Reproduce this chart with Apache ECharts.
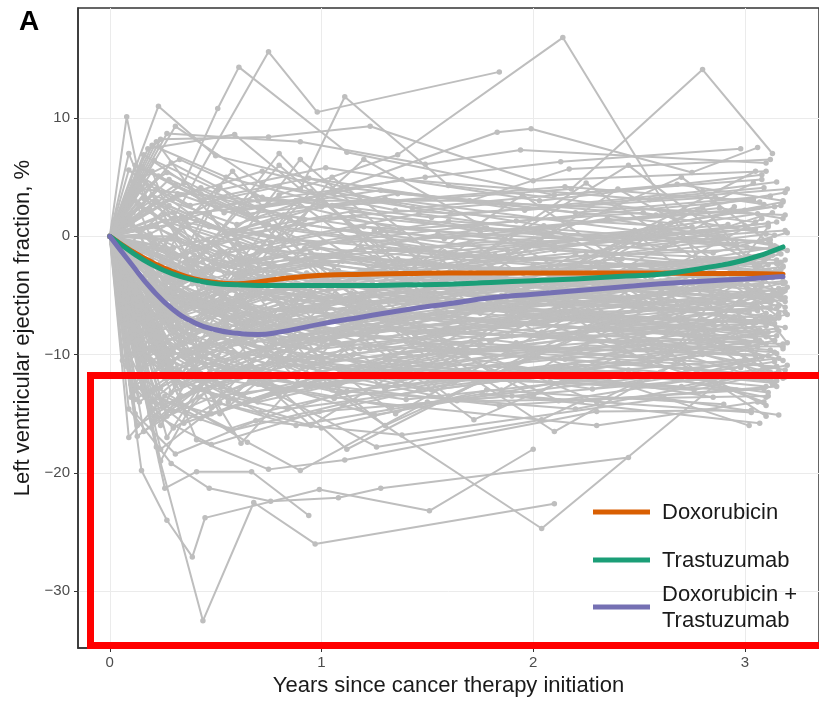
<!DOCTYPE html>
<html>
<head>
<meta charset="utf-8">
<script src="https://cdn.jsdelivr.net/npm/echarts@6/dist/echarts.min.js"></script>
<style>
  html, body { margin: 0; padding: 0; background: #fff; }
  #chart { width: 819px; height: 702px; }
</style>
</head>
<body>
<div id="chart"></div>
<script>
// Change in LVEF from baseline (percentage points) per patient.
// Each trajectory is a flat list of follow-up pairs: years, change.
// Every patient starts at baseline (0 years, 0 change).
const doxorubicinPatients = [
  [0.12,-4.2, 0.45,-6.1, 1.02,-3.5, 2.05,-2.8, 3.10,-1.9],
  [0.18,2.1, 0.52,-1.5, 1.20,0.8, 2.40,-0.5, 3.15,1.2],
  [0.08,10.1, 0.16,3.2, 0.62,-2.4, 1.40,-1.1, 3.05,0.6],
  [0.23,11.0, 0.50,6.8, 1.12,4.1, 2.20,2.0, 3.12,3.4],
  [0.31,9.3, 0.72,4.4, 1.35,2.2, 2.60,0.9],
  [0.15,-19.8, 0.27,-24.0, 0.39,-27.1, 0.45,-23.8, 0.99,-21.4, 1.51,-23.2, 2.00,-18.0],
  [0.10,-7.5, 0.35,-9.8, 0.80,-6.2, 1.65,-4.0, 3.08,-5.1],
  [0.25,-1.2, 0.60,-3.3, 1.10,-2.1, 2.15,-4.5, 3.18,-2.6],
  [0.14,-11.2, 0.42,-8.0, 0.95,-9.6, 2.30,-6.8, 3.05,-7.3],
  [0.20,-3.1, 0.55,-5.8, 1.30,-7.0, 2.50,-5.2, 3.12,-6.1],
  [0.09,5.6, 0.38,1.9, 0.88,3.0, 1.75,0.4, 3.00,2.2],
  [0.28,-6.4, 0.70,-2.9, 1.45,-4.6, 2.70,-3.0],
  [0.17,-13.5, 0.48,-15.0, 1.05,-11.9, 2.00,-9.7, 3.15,-11.0],
  [0.33,-0.4, 0.77,-2.6, 1.55,0.2, 2.85,-1.4, 3.20,0.3],
  [0.13,-8.8, 0.40,-5.2, 0.90,-7.7, 1.90,-8.4, 3.10,-7.3],
  [0.22,4.0, 0.58,0.5, 1.25,-1.8, 2.35,1.5, 3.14,-0.8],
  [0.35,4.5, 0.51,10.8, 0.61,14.3, 1.12,7.1, 2.10,3.5, 3.08,4.8],
  [0.40,-2.0, 0.80,3.5, 1.36,6.9, 2.14,16.8, 2.78,-1.9],
  [0.11,-2.7, 0.30,-5.5, 0.66,-8.1, 1.50,-5.9, 2.45,-7.2, 3.16,-4.4],
  [0.19,-9.4, 0.46,-12.2, 0.85,-10.1, 1.80,-11.5, 3.02,-9.0],
  [0.26,1.3, 0.64,-0.9, 1.15,-3.4, 2.25,-1.6, 3.11,-2.9],
  [0.07,-5.0, 0.24,-2.2, 0.56,-4.0, 1.00,-6.3, 2.10,-3.7, 3.13,-4.9],
  [0.16,6.9, 0.43,3.6, 0.92,1.4, 1.85,2.8, 3.19,1.8],
  [0.29,-10.6, 0.68,-7.4, 1.40,-8.9, 2.55,-10.2, 3.06,-8.1],
  [0.12,-1.8, 0.37,0.9, 0.74,-1.2, 1.60,-2.5, 2.90,-0.1],
  [0.21,-15.6, 0.53,-11.0, 1.08,-13.2, 2.20,-10.8, 3.14,-12.4],
  [0.34,-4.9, 0.81,-6.8, 1.70,-3.2, 3.04,-5.7],
  [0.09,3.1, 0.27,5.4, 0.63,2.2, 1.28,3.9, 2.65,1.1, 3.17,2.6],
  [0.18,-7.0, 0.50,-3.9, 0.97,-5.1, 2.05,-6.6, 3.09,-3.3],
  [0.24,-12.8, 0.57,-9.3, 1.18,-7.5, 2.40,-9.0, 3.15,-8.4],
  [0.14,0.6, 0.44,-2.8, 0.89,-0.3, 1.95,-1.9, 3.12,-1.0],
  [0.30,-8.2, 0.75,-10.8, 1.50,-9.2, 2.80,-7.0],
  [0.10,-3.6, 0.32,-7.3, 0.69,-5.0, 1.35,-3.0, 2.60,-4.8, 3.18,-3.8],
  [0.20,7.7, 0.55,5.0, 1.05,2.6, 2.15,4.2, 3.07,2.9],
  [0.36,-2.3, 0.86,-4.4, 1.62,-1.6, 2.95,-2.8],
  [0.13,-16.9, 0.41,-13.0, 0.84,-14.6, 1.90,-12.1, 3.00,-10.4],
  [0.23,-5.6, 0.61,-8.7, 1.20,-6.1, 2.35,-7.9, 3.16,-6.9],
  [0.08,-0.9, 0.28,2.6, 0.59,0.1, 1.15,1.7, 2.50,-0.7, 3.11,0.9],
  [0.27,-11.4, 0.66,-13.8, 1.32,-10.5, 2.70,-12.0, 3.15,-9.9],
  [0.15,-6.1, 0.47,-4.3, 1.00,-2.4, 2.00,-4.1, 3.13,-3.5],
  [0.32,3.6, 0.73,1.0, 1.48,-0.9, 2.75,0.8],
  [0.11,-9.9, 0.34,-6.7, 0.78,-9.0, 1.70,-7.1, 3.05,-8.6],
  [0.19,-4.7, 0.52,-1.3, 1.10,-4.0, 2.30,-2.2, 3.19,-4.6],
  [0.25,-14.3, 0.62,-11.7, 1.25,-15.1, 2.45,-11.3, 3.10,-13.6],
  [0.06,1.8, 0.22,-1.0, 0.48,-3.6, 0.95,-1.4, 1.95,-2.9, 3.02,-1.7],
  [0.29,6.2, 0.70,2.4, 1.38,4.8, 2.55,3.1, 3.20,4.0],
  [0.10,-12.5, 0.30,-16.2, 0.70,-12.0, 1.40,-13.8, 2.60,-11.5, 3.12,-12.2],
  [0.16,-1.0, 0.40,-3.0, 0.83,-1.7, 1.52,-3.8, 2.78,-2.0, 3.16,-3.3],
  [0.21,2.9, 0.47,0.8, 0.99,-0.6, 2.02,0.3, 3.08,-0.4],
  [0.07,-9.2, 0.20,-13.9, 0.45,-10.2, 0.93,-12.7, 1.88,-10.0, 3.03,-11.7],
  [0.26,-3.7, 0.58,-6.9, 1.14,-4.8, 2.28,-5.9, 3.17,-5.0],
  [0.13,3.8, 0.36,1.2, 0.76,-0.5, 1.46,1.9, 2.62,-0.9, 3.13,2.0],
  [0.31,-7.8, 0.73,-5.3, 1.44,-8.3, 2.66,-6.1, 3.19,-7.7],
  [0.09,-4.5, 0.27,-8.9, 0.60,-6.7, 1.18,-9.5, 2.32,-6.4, 3.10,-9.1],
  [0.19,0.1, 0.49,-2.3, 1.03,-4.6, 2.08,-2.5, 3.15,-2.3],
  [0.24,-18.0, 0.52,-14.1, 1.00,-16.2, 1.78,-13.0, 2.90,-14.2],
  [0.12,-6.8, 0.39,-4.0, 0.82,-7.1, 1.66,-5.6, 3.06,-6.3],
  [0.34,1.7, 0.79,-1.0, 1.60,1.3, 2.96,-0.6],
  [0.17,-10.1, 0.43,-7.1, 0.91,-11.0, 1.96,-8.3, 3.14,-9.8],
  [0.06,-2.0, 0.18,-5.9, 0.41,-3.3, 0.86,-5.5, 1.74,-3.4, 3.01,-4.1],
  [0.28,4.8, 0.65,1.9, 1.30,3.2, 2.48,0.5, 3.18,2.9],
  [0.14,-14.0, 0.33,-11.4, 0.71,-14.9, 1.48,-11.8, 2.76,-13.0, 3.16,-11.4],
  [0.22,-5.0, 0.54,-2.5, 1.09,-5.3, 2.18,-3.0, 3.11,-5.4],
  [0.10,1.0, 0.29,-1.9, 0.64,0.6, 1.26,-2.3, 2.42,0.2, 3.20,-1.2],
  [0.20,5.5, 0.45,-6.0, 0.95,3.8, 1.60,-5.5, 2.40,4.0, 3.12,-3.0],
  [0.11,-13.0, 0.38,-2.0, 0.90,-12.5, 1.70,-1.5, 2.55,-10.8, 3.17,-4.6],
  [0.30,2.0, 0.68,-9.0, 1.25,0.5, 2.05,-8.5, 3.08,1.5],
  [0.15,-8.0, 0.52,4.2, 1.15,-6.0, 1.95,3.5, 2.85,-7.5, 3.19,-2.0],
  [0.24,-16.0, 0.60,-5.0, 1.35,-15.0, 2.20,-6.5, 3.10,-14.3],
  [0.09,7.0, 0.33,-3.5, 0.80,6.0, 1.50,-4.5, 2.70,5.0, 3.15,-1.0],
  [0.18,-3.0, 0.56,-14.0, 1.10,-4.0, 2.00,-13.5, 3.02,-3.5],
  [0.28,-10.0, 0.75,1.0, 1.55,-11.0, 2.50,0.0, 3.18,-9.5],
  [0.13,0.5, 0.42,-10.0, 0.85,1.5, 1.80,-9.0, 2.95,2.5],
  [0.36,-6.0, 0.90,6.5, 1.75,-6.5, 3.05,5.5]
];

const trastuzumabPatients = [
  [0.18,7.4, 0.59,8.6, 0.90,4.0, 1.11,11.8, 1.60,4.3, 3.05,1.2],
  [0.24,8.2, 0.75,8.4, 1.23,9.3, 2.00,4.7, 3.10,5.5],
  [0.27,8.7, 0.90,8.0, 1.49,6.1, 1.94,7.3, 3.10,6.2],
  [0.12,6.0, 0.50,2.5, 1.49,5.0, 2.13,6.3, 2.98,7.4],
  [0.20,3.5, 0.60,1.0, 1.83,8.8, 1.99,9.1, 2.75,5.4, 3.06,7.5],
  [0.30,-1.0, 1.00,2.5, 2.18,4.0, 2.80,14.1, 3.13,7.0],
  [0.30,1.5, 0.75,15.6, 0.98,10.5, 1.84,13.9],
  [0.15,4.0, 0.70,3.0, 1.70,3.0, 2.17,5.7, 3.12,6.5],
  [0.10,-2.5, 0.25,-4.8, 0.50,-2.0, 1.05,-3.9, 2.10,-1.2, 3.15,-2.0],
  [0.22,-6.9, 0.58,-4.4, 1.22,-5.8, 2.40,-3.6, 3.08,-4.2],
  [0.14,2.7, 0.39,-0.6, 0.82,1.8, 1.58,-0.2, 2.88,2.4, 3.18,1.5],
  [0.33,-3.8, 0.76,-1.1, 1.44,-2.7, 2.62,0.4, 3.12,-0.6],
  [0.08,-8.3, 0.26,-11.8, 0.57,-8.9, 1.12,-6.5, 2.25,-7.7, 3.16,-5.8],
  [0.19,0.2, 0.49,2.9, 0.96,-0.7, 1.92,1.3, 3.04,3.1],
  [0.28,-5.2, 0.65,-7.6, 1.30,-4.4, 2.50,-6.0, 3.11,-2.4],
  [0.12,-12.6, 0.36,-9.7, 0.80,-12.9, 1.75,-9.1, 3.05,-10.1],
  [0.23,5.1, 0.54,2.0, 1.06,3.7, 2.05,0.9, 3.14,2.5],
  [0.17,-3.3, 0.45,-5.9, 0.93,-3.1, 1.85,-5.0, 3.09,-2.1],
  [0.35,-9.1, 0.82,-6.0, 1.60,-7.9, 2.90,-5.5],
  [0.09,-6.2, 0.31,-3.0, 0.68,-6.6, 1.42,-4.7, 2.70,-5.9, 3.19,-3.9],
  [0.26,1.9, 0.63,-2.2, 1.28,0.4, 2.45,-1.5, 3.12,-0.3],
  [0.15,-10.4, 0.47,-7.8, 1.02,-9.3, 2.15,-6.2, 3.07,-7.9],
  [0.21,-0.8, 0.56,-3.1, 1.16,-1.9, 2.30,-3.4, 3.16,-1.3],
  [0.11,4.6, 0.33,6.5, 0.72,3.3, 1.52,1.6, 2.80,3.8, 3.15,4.6],
  [0.29,-13.2, 0.71,-10.1, 1.45,-11.6, 2.65,-9.4, 3.18,-9.3],
  [0.18,-4.0, 0.52,-6.4, 1.08,-2.9, 2.20,-5.3, 3.03,-3.0],
  [0.07,-3.0, 0.21,-0.5, 0.46,-2.9, 0.98,-1.0, 2.00,-2.4, 3.10,0.2],
  [0.32,-7.5, 0.79,-9.9, 1.55,-6.3, 2.85,-8.0, 3.20,-6.6],
  [0.14,-1.5, 0.41,1.3, 0.86,-2.0, 1.78,0.7, 3.01,-0.9],
  [0.24,-8.7, 0.60,-5.5, 1.26,-8.1, 2.55,-5.0, 3.14,-7.0],
  [0.16,2.3, 0.43,4.1, 0.91,1.0, 1.88,-1.2, 3.06,1.9],
  [0.27,-2.1, 0.67,-4.9, 1.34,-2.3, 2.60,-3.9, 3.17,-1.5],
  [0.10,-11.5, 0.30,-14.8, 0.66,-11.0, 1.30,-12.8, 2.40,-10.6, 3.12,-11.8],
  [0.20,0.9, 0.52,-1.7, 1.04,1.6, 2.10,-0.8, 3.19,0.5],
  [0.34,-5.7, 0.84,-3.5, 1.66,-5.4, 2.98,-4.1],
  [0.13,-7.9, 0.38,-10.6, 0.85,-7.3, 1.72,-9.8, 3.07,-8.8],
  [0.22,3.0, 0.57,0.3, 1.14,2.1, 2.28,-0.4, 3.11,1.1],
  [0.05,-1.0, 0.17,-3.8, 0.40,-1.6, 0.87,-4.2, 1.80,-2.6, 3.04,-3.6],
  [0.30,-9.8, 0.74,-12.4, 1.47,-9.6, 2.72,-11.2, 3.16,-10.3],
  [0.15,5.9, 0.44,3.1, 0.94,4.9, 1.96,2.2, 3.09,4.1],
  [0.25,-3.5, 0.61,-0.7, 1.24,-3.8, 2.42,-1.9, 3.13,-3.1],
  [0.11,-5.3, 0.35,-8.1, 0.75,-4.6, 1.50,-6.9, 2.75,-4.5, 3.19,-5.5],
  [0.19,-14.9, 0.50,-12.0, 1.06,-13.7, 2.12,-11.0, 3.10,-12.7],
  [0.28,1.0, 0.69,3.4, 1.37,0.6, 2.52,2.0, 3.14,0.1],
  [0.09,-2.2, 0.28,-6.0, 0.62,-3.4, 1.20,-5.6, 2.35,-2.8, 3.18,-4.0],
  [0.32,-1.7, 0.78,0.7, 1.58,-1.3, 2.92,1.0],
  [0.13,-5.9, 0.37,-2.6, 0.78,-5.2, 1.58,-3.3, 2.84,-4.7, 3.17,-2.8],
  [0.21,6.4, 0.51,3.9, 1.02,5.8, 2.03,3.0, 3.08,5.2],
  [0.08,-10.8, 0.24,-7.6, 0.55,-10.5, 1.10,-8.2, 2.22,-9.7, 3.12,-7.1],
  [0.29,-0.2, 0.66,-2.9, 1.32,-1.1, 2.56,-2.6, 3.15,-0.9],
  [0.16,-16.5, 0.42,-13.6, 0.88,-16.0, 1.76,-13.3, 3.03,-14.9],
  [0.11,2.0, 0.31,4.3, 0.69,1.5, 1.36,3.6, 2.58,1.8, 3.19,3.7],
  [0.25,-7.2, 0.61,-10.0, 1.21,-7.0, 2.36,-8.8, 3.10,-6.5],
  [0.18,-2.9, 0.46,-0.3, 0.97,-3.6, 1.98,-0.9, 3.05,-2.6],
  [0.34,-11.8, 0.81,-9.0, 1.63,-12.3, 2.94,-9.5],
  [0.06,0.5, 0.19,2.2, 0.42,-0.9, 0.89,1.1, 1.82,-1.6, 3.00,0.9],
  [0.23,-4.4, 0.57,-7.0, 1.13,-3.9, 2.26,-6.2, 3.16,-4.8],
  [0.14,-8.0, 0.40,-5.8, 0.84,-9.4, 1.70,-6.0, 3.08,-9.0],
  [0.30,3.2, 0.72,5.5, 1.43,2.4, 2.68,4.4, 3.18,3.0],
  [0.10,-13.6, 0.28,-10.0, 0.63,-13.4, 1.24,-10.9, 2.44,-12.5, 3.14,-10.6],
  [0.20,-1.3, 0.50,-4.6, 1.01,-2.0, 2.06,-4.3, 3.11,-1.8],
  [0.27,-6.0, 0.64,-3.2, 1.29,-6.8, 2.52,-4.0, 3.19,-6.4],
  [0.15,5.0, 0.38,2.6, 0.80,4.2, 1.61,1.9, 2.86,3.3, 3.09,2.7],
  [0.12,-9.0, 0.34,-12.6, 0.74,-9.9, 1.46,-12.9, 2.74,-10.2, 3.13,-12.3],
  [0.17,4.5, 0.55,-7.5, 1.05,5.0, 1.90,-6.5, 2.80,2.5, 3.16,-5.0],
  [0.26,-12.0, 0.62,-1.0, 1.30,-13.0, 2.30,-2.5, 3.12,-11.5],
  [0.10,1.5, 0.40,-8.5, 0.88,3.0, 1.65,-7.0, 2.60,1.0, 3.19,-6.0],
  [0.33,-4.0, 0.80,7.0, 1.45,-5.0, 2.45,6.0, 3.07,-2.5],
  [0.14,-9.5, 0.47,2.0, 1.00,-10.5, 2.10,0.5, 3.14,-8.8],
  [0.22,8.0, 0.65,-2.5, 1.20,6.5, 2.15,-3.0, 3.04,4.5],
  [0.07,-6.5, 0.25,-14.5, 0.60,-3.5, 1.40,-12.5, 2.35,-4.0, 3.18,-12.0],
  [0.29,0.0, 0.70,-11.5, 1.50,-1.0, 2.65,-10.0, 3.11,0.8],
  [0.19,-2.0, 0.58,5.5, 1.22,-8.0, 2.25,4.5, 3.16,-6.8],
  [0.38,-7.0, 0.95,-16.0, 1.85,-6.0, 3.09,-14.0]
];

const comboPatients = [
  [0.22,-17.8, 0.44,-32.5, 0.68,-22.5, 0.97,-26.0, 2.10,-22.6],
  [0.09,-14.6, 0.29,-19.2, 0.47,-21.3, 0.76,-22.4, 1.08,-22.1, 1.28,-21.3, 2.45,-18.7],
  [0.26,-21.3, 0.41,-19.9, 0.67,-19.9, 0.94,-23.6],
  [0.22,-9.0, 0.41,-17.2, 0.75,-19.7, 1.11,-18.9, 2.30,-14.8, 3.03,-14.7],
  [0.15,-12.0, 0.65,-17.4, 0.90,-19.8, 1.50,-14.0, 3.11,-13.5],
  [0.30,-8.0, 0.70,-12.5, 1.26,-17.8, 2.04,-15.5, 2.23,-13.9, 3.15,-12.7],
  [0.20,-6.5, 0.60,-9.0, 0.97,-12.1, 2.04,-24.7, 3.00,-10.5],
  [0.12,-10.0, 0.50,-13.5, 1.20,-12.0, 2.08,-12.3, 2.96,-13.0],
  [0.25,-8.5, 0.80,-11.0, 1.60,-9.5, 2.12,-13.9, 3.15,-11.0],
  [0.14,-7.2, 0.45,-10.9, 0.90,-8.4, 1.70,-6.1, 3.10,-7.3],
  [0.18,-4.1, 0.55,-7.7, 1.15,-5.0, 2.20,-6.4, 3.15,-6.1],
  [0.27,-11.9, 0.64,-14.2, 1.30,-10.3, 2.50,-8.7, 3.12,-9.6],
  [0.10,-2.9, 0.33,-6.8, 0.72,-9.5, 1.45,-6.6, 2.65,-4.9, 3.19,-5.2],
  [0.21,-13.0, 0.58,-9.8, 1.22,-11.4, 2.35,-7.6, 3.06,-9.3],
  [0.32,-5.4, 0.77,-8.2, 1.55,-4.2, 2.88,-5.6],
  [0.16,-9.6, 0.48,-6.3, 1.00,-8.9, 2.00,-5.4, 3.09,-6.9],
  [0.08,-6.0, 0.25,-9.1, 0.53,-12.7, 1.05,-9.0, 2.15,-10.4, 3.16,-8.0],
  [0.23,-1.6, 0.62,-5.0, 1.27,-3.0, 2.45,-5.1, 3.13,-3.4],
  [0.13,-16.0, 0.40,-12.9, 0.86,-15.4, 1.82,-11.6, 3.04,-12.0],
  [0.29,-7.0, 0.71,-4.7, 1.40,-7.4, 2.60,-3.8, 3.18,-4.7],
  [0.17,-11.0, 0.51,-8.5, 1.08,-12.5, 2.25,-9.2, 3.11,-10.1],
  [0.06,-3.9, 0.19,-7.9, 0.43,-5.6, 0.88,-7.9, 1.75,-4.5, 3.02,-6.4],
  [0.35,-10.2, 0.85,-7.1, 1.68,-9.9, 2.95,-6.8],
  [0.24,-4.6, 0.60,-2.0, 1.18,-5.7, 2.30,-3.1, 3.17,-2.2],
  [0.11,-8.4, 0.37,-12.0, 0.81,-10.6, 1.62,-8.0, 2.92,-9.7, 3.14,-8.8],
  [0.20,-14.0, 0.56,-16.3, 1.12,-13.1, 2.20,-14.6, 3.08,-11.6],
  [0.28,-2.5, 0.68,-6.1, 1.36,-1.9, 2.58,-4.3, 3.15,-3.0],
  [0.15,-5.8, 0.46,-9.3, 0.96,-7.0, 1.92,-9.0, 3.05,-6.0],
  [0.31,-12.6, 0.76,-9.4, 1.52,-13.0, 2.80,-10.0, 3.19,-11.3],
  [0.09,-1.1, 0.30,-4.3, 0.65,-7.2, 1.25,-4.9, 2.40,-6.8, 3.12,-5.6],
  [0.19,-8.9, 0.54,-11.6, 1.10,-7.7, 2.18,-8.6, 3.10,-7.6],
  [0.26,-6.7, 0.63,-3.8, 1.28,-6.0, 2.48,-2.7, 3.16,-5.9],
  [0.12,-13.8, 0.39,-10.5, 0.83,-11.9, 1.68,-9.5, 2.98,-11.1],
  [0.22,0.8, 0.59,-3.2, 1.19,-1.0, 2.32,-2.7, 3.13,-1.6],
  [0.33,-9.2, 0.80,-13.3, 1.60,-10.8, 2.90,-12.0],
  [0.14,-5.1, 0.42,-8.0, 0.88,-5.3, 1.80,-7.2, 3.07,-4.6],
  [0.07,-7.4, 0.23,-4.7, 0.50,-8.6, 1.00,-10.2, 2.05,-8.2, 3.18,-9.1],
  [0.27,-15.2, 0.66,-12.3, 1.33,-14.4, 2.55,-11.9, 3.11,-13.2],
  [0.18,-3.0, 0.52,-5.5, 1.07,-8.0, 2.12,-4.8, 3.14,-7.4],
  [0.25,-10.8, 0.61,-7.9, 1.23,-9.6, 2.38,-6.9, 3.09,-8.3],
  [0.30,-4.8, 0.73,-7.0, 1.42,-3.6, 2.68,-5.8, 3.20,-4.3],
  [0.10,-12.3, 0.35,-15.8, 0.79,-13.0, 1.58,-10.0, 2.85,-13.6],
  [0.08,-11.0, 0.22,-15.2, 0.48,-17.6, 0.99,-14.8, 1.90,-13.5, 3.07,-15.8],
  [0.17,-6.2, 0.44,-9.7, 0.93,-12.8, 1.86,-9.4, 3.05,-10.0],
  [0.25,-2.0, 0.59,-4.5, 1.17,-7.3, 2.27,-5.0, 3.12,-6.8],
  [0.12,-15.0, 0.31,-18.4, 0.69,-15.6, 1.38,-16.8, 2.62,-13.7, 3.16,-15.1],
  [0.30,-9.5, 0.72,-6.6, 1.42,-10.1, 2.64,-7.9, 3.18,-10.5],
  [0.06,-5.4, 0.18,-10.2, 0.40,-13.1, 0.85,-10.9, 1.72,-12.2, 3.03,-9.6],
  [0.21,-7.6, 0.53,-5.1, 1.08,-9.0, 2.14,-6.6, 3.10,-8.5],
  [0.15,-12.8, 0.43,-15.4, 0.92,-12.4, 1.84,-14.3, 3.09,-12.9],
  [0.27,-3.4, 0.66,-8.0, 1.33,-5.4, 2.56,-7.0, 3.14,-4.9],
  [0.10,-8.6, 0.32,-11.3, 0.70,-14.0, 1.40,-11.2, 2.70,-12.7, 3.20,-10.9],
  [0.19,-4.9, 0.50,-8.3, 1.02,-6.1, 2.04,-8.1, 3.13,-5.4],
  [0.34,-13.5, 0.80,-10.6, 1.64,-13.9, 2.93,-11.9],
  [0.13,-1.9, 0.38,-5.2, 0.82,-3.1, 1.64,-6.0, 2.90,-3.6, 3.17,-5.3],
  [0.23,-10.0, 0.57,-13.0, 1.15,-10.0, 2.28,-12.9, 3.08,-10.2],
  [0.09,-17.0, 0.26,-13.5, 0.58,-16.4, 1.16,-13.9, 2.30,-16.0, 3.06,-14.0],
  [0.16,-3.6, 0.45,-6.4, 0.95,-8.8, 1.94,-6.7, 3.11,-8.1],
  [0.29,-11.2, 0.69,-8.1, 1.38,-11.9, 2.60,-9.0, 3.19,-11.9],
  [0.11,-7.8, 0.36,-4.9, 0.78,-8.7, 1.56,-7.0, 2.82,-8.5, 3.15,-7.8],
  [0.16,-2.0, 0.48,-14.5, 1.02,-3.5, 1.85,-13.0, 2.75,-4.0, 3.15,-12.2],
  [0.27,-17.0, 0.64,-6.5, 1.30,-16.0, 2.40,-7.0, 3.10,-15.2],
  [0.09,-9.0, 0.35,1.5, 0.85,-11.0, 1.70,-0.5, 2.60,-10.5, 3.18,-2.5],
  [0.20,-5.0, 0.62,-17.5, 1.20,-6.0, 2.10,-16.5, 3.05,-7.0],
  [0.32,-12.0, 0.78,-2.5, 1.60,-13.5, 2.85,-3.0],
  [0.12,3.0, 0.42,-9.5, 0.92,-1.0, 1.80,-11.5, 2.90,-2.0, 3.20,-9.0],
  [0.24,-19.0, 0.55,-9.0, 1.12,-18.0, 2.00,-10.0, 3.02,-16.0],
  [0.14,-7.0, 0.50,-0.5, 1.05,-13.0, 2.20,-1.5, 3.13,-12.5],
  [0.36,-15.0, 0.88,-4.5, 1.72,-15.5, 3.06,-5.0],
  [0.06,-10.5, 0.21,-3.5, 0.52,-15.0, 1.15,-5.5, 2.30,-14.0, 3.16,-6.5]
];

// Smoothed group means
const fitYears       = [0, 0.1, 0.2, 0.3, 0.4, 0.5, 0.6, 0.7, 0.8, 1.0, 1.2, 1.4, 1.6, 1.8, 2.0, 2.2, 2.4, 2.6, 2.8, 3.0, 3.18];
const fitDoxorubicin = [0, -1.2, -2.2, -3.0, -3.6, -3.9, -4.0, -3.85, -3.6, -3.3, -3.2, -3.15, -3.1, -3.1, -3.1, -3.1, -3.1, -3.1, -3.15, -3.15, -3.2];
const fitTrastuzumab = [0, -1.3, -2.4, -3.2, -3.7, -4.0, -4.1, -4.15, -4.15, -4.15, -4.15, -4.1, -4.05, -3.9, -3.75, -3.6, -3.4, -3.2, -2.7, -2.0, -0.9];
const fitCombination = [0, -2.3, -4.5, -6.2, -7.3, -7.9, -8.2, -8.3, -8.1, -7.4, -6.8, -6.2, -5.7, -5.2, -4.9, -4.6, -4.3, -4.0, -3.8, -3.6, -3.4];

const groupNames  = ['Doxorubicin', 'Trastuzumab', 'Doxorubicin +\nTrastuzumab'];
const groupColors = ['#D95F02', '#1B9E77', '#7570B3'];

const xTicks = [0, 1, 2, 3];
const yTicks = [-30, -20, -10, 0, 10];

const GRID = { left: 78, top: 8, width: 748, height: 644 };
const GREY = '#bebebe';
const FONT = '"Liberation Sans", Arial, sans-serif';

function toPairs(flat) {
  const pts = [[0, 0]];
  for (let i = 0; i < flat.length; i += 2) pts.push([flat[i], flat[i + 1]]);
  return pts;
}

const series = [];
[doxorubicinPatients, trastuzumabPatients, comboPatients].forEach(group => {
  group.forEach(traj => {
    series.push({
      type: 'line',
      data: toPairs(traj),
      symbol: 'circle',
      symbolSize: 5.5,
      showSymbol: true,
      lineStyle: { color: GREY, width: 2 },
      itemStyle: { color: GREY },
      silent: true,
      z: 2
    });
  });
});

[fitDoxorubicin, fitTrastuzumab, fitCombination].forEach((vals, k) => {
  series.push({
    type: 'line',
    name: groupNames[k],
    data: fitYears.map((t, i) => [t, vals[i]]),
    smooth: 0.5,
    showSymbol: false,
    lineStyle: { color: groupColors[k], width: 5, cap: 'round' },
    itemStyle: { color: groupColors[k] },
    silent: true,
    z: 5 + k
  });
});

const chart = echarts.init(document.getElementById('chart'), null, { renderer: 'canvas' });

// Legend keys and labels
const legendY = [512, 560, 607];
const legendGraphics = [];
groupNames.forEach((name, k) => {
  legendGraphics.push({
    type: 'line',
    shape: { x1: 593, y1: legendY[k], x2: 650, y2: legendY[k] },
    style: { stroke: groupColors[k], lineWidth: 5 },
    z: 100
  });
  legendGraphics.push({
    type: 'text',
    x: 662,
    y: legendY[k] + 1,
    style: {
      text: name,
      font: '22px ' + FONT,
      fill: '#1a1a1a',
      verticalAlign: 'middle',
      lineHeight: 26
    },
    z: 100
  });
});

chart.setOption({
  animation: false,
  backgroundColor: '#ffffff',
  grid: {
    left: GRID.left, top: GRID.top, width: GRID.width, height: GRID.height,
    show: true, borderColor: '#333333', borderWidth: 1.5, backgroundColor: 'transparent'
  },
  xAxis: {
    type: 'value',
    min: -0.15,
    max: 3.35,
    name: 'Years since cancer therapy initiation',
    nameLocation: 'middle',
    nameGap: 27,
    nameTextStyle: { fontSize: 22, color: '#1a1a1a', fontFamily: FONT },
    axisLine: { show: true, onZero: false, lineStyle: { color: '#333333', width: 1.5 } },
    axisTick: { show: true, length: 4, customValues: xTicks, lineStyle: { color: '#333333' } },
    axisLabel: { customValues: xTicks, fontSize: 15, color: '#4d4d4d', margin: 7, fontFamily: FONT },
    splitLine: { show: true, lineStyle: { color: '#ebebeb', width: 1 } }
  },
  yAxis: {
    type: 'value',
    min: -34.8,
    max: 19.3,
    name: 'Left ventricular ejection fraction, %',
    nameLocation: 'middle',
    nameGap: 37,
    nameTextStyle: { fontSize: 22, color: '#1a1a1a', fontFamily: FONT },
    axisLine: { show: true, onZero: false, lineStyle: { color: '#333333', width: 1.5 } },
    axisTick: { show: true, length: 4, customValues: yTicks, lineStyle: { color: '#333333' } },
    axisLabel: {
      customValues: yTicks, fontSize: 15, color: '#4d4d4d', margin: 8, fontFamily: FONT,
      formatter: v => (v < 0 ? '\u2212' + Math.abs(v) : String(v))
    },
    splitLine: { show: true, lineStyle: { color: '#ebebeb', width: 1 } }
  },
  series: series,
  graphic: [
    {
      type: 'text',
      left: 19,
      top: 8,
      style: { text: 'A', font: 'bold 28px ' + FONT, fill: '#000000' },
      z: 100
    },
    {
      type: 'rect',
      shape: { x: 90.5, y: 375.5, width: 745, height: 270 },
      style: { fill: 'none', stroke: '#ff0000', lineWidth: 7 },
      z: 200
    }
  ].concat(legendGraphics)
});
</script>
</body>
</html>
